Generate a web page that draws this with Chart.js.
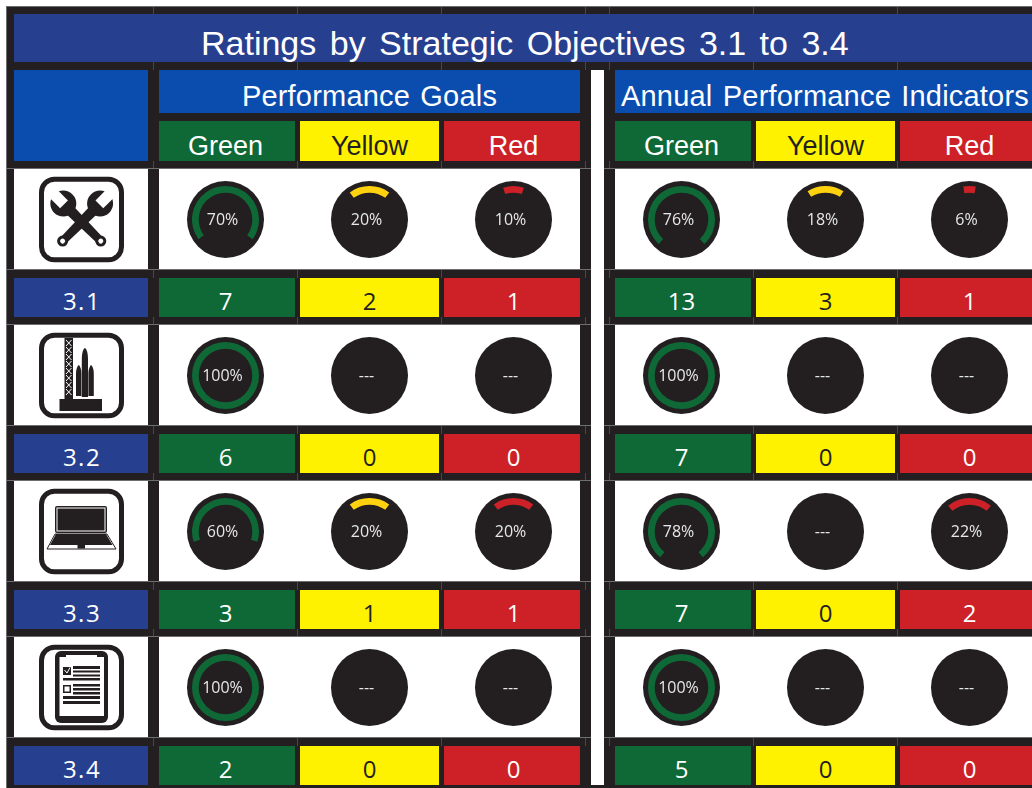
<!DOCTYPE html>
<html>
<head>
<meta charset="utf-8">
<title>Ratings by Strategic Objectives 3.1 to 3.4</title>
<script src="https://cdn.jsdelivr.net/npm/chart.js@4"></script>
<style>
    html, body { margin: 0; padding: 0; background: #fff; overflow: hidden; }
    #page { position: relative; width: 1032px; height: 788px; overflow: hidden; }
    .box { position: absolute; white-space: nowrap; text-align: center; }
    .head { font-family: "Liberation Sans", Arial, sans-serif; }
    .num { font-family: "Open Sans", sans-serif; font-size: 24px; }
    .pct { font-family: "Open Sans", sans-serif; font-size: 16px; color: #e6e7e8; line-height: 20px; }
    canvas.gauge { position: absolute; background: #231f20; border-radius: 50%; }
    #icons { position: absolute; left: 0; top: 0; }
</style>
</head>
<body>
<div id="page"></div>
<script>
// Values
const objectives = ["3.1", "3.2", "3.3", "3.4"];
const ratingNames = ["Green", "Yellow", "Red"];

const goalGreenPct = [70, 100, 60, 100];
const goalYellowPct = [20, 0, 20, 0];
const goalRedPct = [10, 0, 20, 0];
const indicatorGreenPct = [76, 100, 78, 100];
const indicatorYellowPct = [18, 0, 0, 0];
const indicatorRedPct = [6, 0, 22, 0];

const goalGreenCount = [7, 6, 3, 2];
const goalYellowCount = [2, 0, 1, 0];
const goalRedCount = [1, 0, 1, 0];
const indicatorGreenCount = [13, 7, 7, 5];
const indicatorYellowCount = [3, 0, 0, 0];
const indicatorRedCount = [1, 0, 2, 0];

// Colours and page layout
const BLACK = "#231f20", NAVY = "#273f8f", BLUE = "#0b4daf", SEAM = "#6d6e71";
const cellColors = ["#0f6937", "#fff200", "#ce2127"];
const cellText = ["#fff", BLACK, "#fff"];
const arcColors = ["#0f6937", "#ffd20f", "#ce2127"];

const colLeft = [159, 300, 444, 615, 756, 900];
const colWidth = [136, 139, 136, 136, 139, 132];
const gaugeX = [225.5, 369.5, 513.5, 681.5, 825.5, 969.5];
const rowTop = [169, 325, 481, 637];

const page = document.getElementById("page");

function box(x, y, w, h, bg, txt, cls, css) {
    const d = document.createElement("div");
    d.className = "box " + (cls || "");
    d.style.left = x + "px";
    d.style.top = y + "px";
    d.style.width = w + "px";
    d.style.height = h + "px";
    d.style.background = bg;
    if (txt !== undefined) d.textContent = txt;
    if (css) Object.assign(d.style, css);
    page.appendChild(d);
    return d;
}

function gauge(cx, cy, pct, color) {
    const c = document.createElement("canvas");
    c.className = "gauge";
    c.width = 77;
    c.height = 77;
    c.style.left = (cx - 38.5) + "px";
    c.style.top = (cy - 38.5) + "px";
    page.appendChild(c);
    new Chart(c, {
        type: "doughnut",
        data: {
            labels: ["Rating", "Rest"],
            datasets: [{
                data: [pct, 100 - pct],
                backgroundColor: [color, "rgba(0,0,0,0)"],
                borderWidth: 0,
            }],
        },
        options: {
            responsive: false,
            animation: false,
            events: [],
            radius: 33.5,
            cutout: "80%",
            rotation: -pct * 1.8,
            plugins: { legend: { display: false }, tooltip: { enabled: false } },
        },
    });
    box(cx - 41, cy - 10, 76, 20, "transparent", pct > 0 ? pct + "%" : "---", "pct");
}

// black frame and white divider
box(6, 6, 1026, 782, BLACK);
box(591, 70, 13, 715, "#fff");

// header bands
box(14, 14, 1018, 48, NAVY, "Ratings by Strategic Objectives 3.1 to 3.4", "head",
    { color: "#fff", fontSize: "34px", lineHeight: "59px", textAlign: "left", textIndent: "187px", wordSpacing: "4px" });
box(14, 70, 134, 91, BLUE);
box(159, 70, 421, 43, BLUE, "Performance Goals", "head",
    { color: "#fff", fontSize: "29px", lineHeight: "52px", wordSpacing: "2px", letterSpacing: "0.2px" });
box(615, 70, 417, 43, BLUE, "Annual Performance Indicators", "head",
    { color: "#fff", fontSize: "29px", lineHeight: "52px", textAlign: "left", textIndent: "6px", wordSpacing: "2px", letterSpacing: "0.2px" });

colLeft.forEach(function (x, i) {
    const indent = 2 * (gaugeX[i] - (x + colWidth[i] / 2));
    box(x, 121, colWidth[i], 40, cellColors[i % 3], ratingNames[i % 3], "head",
        { color: cellText[i % 3], fontSize: "27px", lineHeight: "50px", overflow: "hidden", textIndent: indent + "px" });
});

// rows: gauges on white, counts underneath
const allPct = [goalGreenPct, goalYellowPct, goalRedPct, indicatorGreenPct, indicatorYellowPct, indicatorRedPct];
const allCount = [goalGreenCount, goalYellowCount, goalRedCount, indicatorGreenCount, indicatorYellowCount, indicatorRedCount];

objectives.forEach(function (name, r) {
    const y = rowTop[r];
    box(14, y, 134, 100, "#fff");
    box(159, y, 421, 100, "#fff");
    box(615, y, 417, 100, "#fff");
    box(14, y + 109, 134, 39, NAVY, name, "num",
        { color: "#fff", lineHeight: "46px", letterSpacing: "1.5px", textIndent: "2px" });
    colLeft.forEach(function (x, i) {
        const indent = 2 * (gaugeX[i] - (x + colWidth[i] / 2));
        box(x, y + 109, colWidth[i], 39, cellColors[i % 3], allCount[i][r], "num",
            { color: cellText[i % 3], lineHeight: "46px", textIndent: indent + "px" });
        gauge(gaugeX[i], y + 50, allPct[i][r], arcColors[i % 3]);
    });
});

// thin grey seams left by the tiled source artwork
box(6, 6, 1026, 1, SEAM);
[168, 269, 324, 425, 480, 581, 636, 737].forEach(function (y) {
    box(6, y, 585, 1, SEAM);
    box(604, y, 428, 1, SEAM);
});
box(6, 6, 1, 782, SEAM);
const seamX = [153, 297, 441, 585, 609, 753, 897];
const seamBands = [[7, 7], [62, 8], [161, 7], [270, 8], [317, 7], [426, 8], [473, 7], [582, 8], [629, 7], [738, 8]];
seamX.forEach(function (x) {
    seamBands.forEach(function (b) {
        box(x, b[0], 1, b[1], "#4a4748");
    });
});

// icons
const iconSvg = `
<svg id="icons" width="1032" height="788" xmlns="http://www.w3.org/2000/svg">
  <defs>
    <g id="wrench">
      <path d="M-5.5 -22 L5.5 -22 L4 27 L-4 27 Z" fill="${BLACK}"/>
      <circle cx="0" cy="-26" r="13" fill="${BLACK}"/>
      <rect x="-5.5" y="-41" width="11" height="16" fill="#fff"/>
      <circle cx="0" cy="27" r="5.5" fill="${BLACK}"/>
      <circle cx="0" cy="27" r="2.5" fill="#fff"/>
    </g>
  </defs>
  <g fill="none" stroke="${BLACK}" stroke-width="5">
    <rect x="41.5" y="179.2" width="80" height="80.6" rx="13"/>
    <rect x="41.5" y="335.2" width="80" height="80.6" rx="13"/>
    <rect x="41.5" y="491.2" width="80" height="80.6" rx="13"/>
    <rect x="41.5" y="647.2" width="80" height="80.6" rx="13"/>
  </g>

  <use href="#wrench" transform="translate(81.7 222) rotate(45)"/>
  <use href="#wrench" transform="translate(81.7 222) rotate(-45)"/>

  <g fill="${BLACK}">
    <rect x="59.5" y="399" width="42.5" height="12"/>
    <rect x="64.5" y="338" width="8.5" height="61"/>
    <path d="M81.8 397 L81.8 360 C81.8 353 83 349 84.9 348 C86.8 349 88 353 88 360 L88 397 Z"/>
    <path d="M76 396 L76 373 C76 369 77.5 366 78.7 365 C80 366 81.4 369 81.4 373 L81.4 396 Z"/>
    <path d="M88.4 396 L88.4 373 C88.4 369 90 366 91 365 C92.4 366 93.8 369 93.8 373 L93.8 396 Z"/>
  </g>
  <path d="M66 340 L71.5 346 M71.5 340 L66 346 M66 347 L71.5 353 M71.5 347 L66 353 M66 354 L71.5 360 M71.5 354 L66 360 M66 361 L71.5 367 M71.5 361 L66 367 M66 368 L71.5 374 M71.5 368 L66 374 M66 375 L71.5 381 M71.5 375 L66 381 M66 382 L71.5 388 M71.5 382 L66 388 M66 389 L71.5 395 M71.5 389 L66 395" stroke="#fff" stroke-width="1" fill="none"/>

  <rect x="55" y="506" width="52" height="27" rx="2" fill="${BLACK}"/>
  <rect x="57" y="508" width="48" height="23" fill="${BLACK}" stroke="#fff" stroke-width="1"/>
  <path d="M55 534 L107 534 L116 549 L47 549 Z" fill="#fff" stroke="${BLACK}" stroke-width="1"/>
  <path d="M56 534 L106 534 L112.5 545 L50 545 Z" fill="${BLACK}"/>
  <rect x="77.5" y="545" width="7.5" height="3.5" fill="${BLACK}"/>

  <rect x="55" y="651" width="53" height="72" rx="6" fill="${BLACK}"/>
  <rect x="59.5" y="657" width="44.5" height="59" fill="#fff"/>
  <rect x="66" y="655" width="31" height="5" fill="#fff"/>
  <g fill="${BLACK}">
    <rect x="63" y="667" width="8" height="8"/>
    <rect x="73" y="666" width="27" height="3"/>
    <rect x="73" y="670.5" width="27" height="2"/>
    <rect x="73" y="674.5" width="27" height="2"/>
    <rect x="63" y="678" width="37" height="2.5"/>
    <rect x="63" y="685" width="8" height="8"/>
    <rect x="73" y="684" width="27" height="2.5"/>
    <rect x="73" y="688" width="27" height="2.5"/>
    <rect x="73" y="692" width="27" height="2.5"/>
    <rect x="63" y="696" width="37" height="3"/>
    <rect x="63" y="701" width="37" height="3"/>
  </g>
  <rect x="64.5" y="686.5" width="5" height="5" fill="#fff"/>
  <path d="M64.5 670 L67 673 L70 667.5" stroke="#fff" stroke-width="1" fill="none"/>
</svg>`;
page.insertAdjacentHTML("beforeend", iconSvg);
</script>
</body>
</html>
